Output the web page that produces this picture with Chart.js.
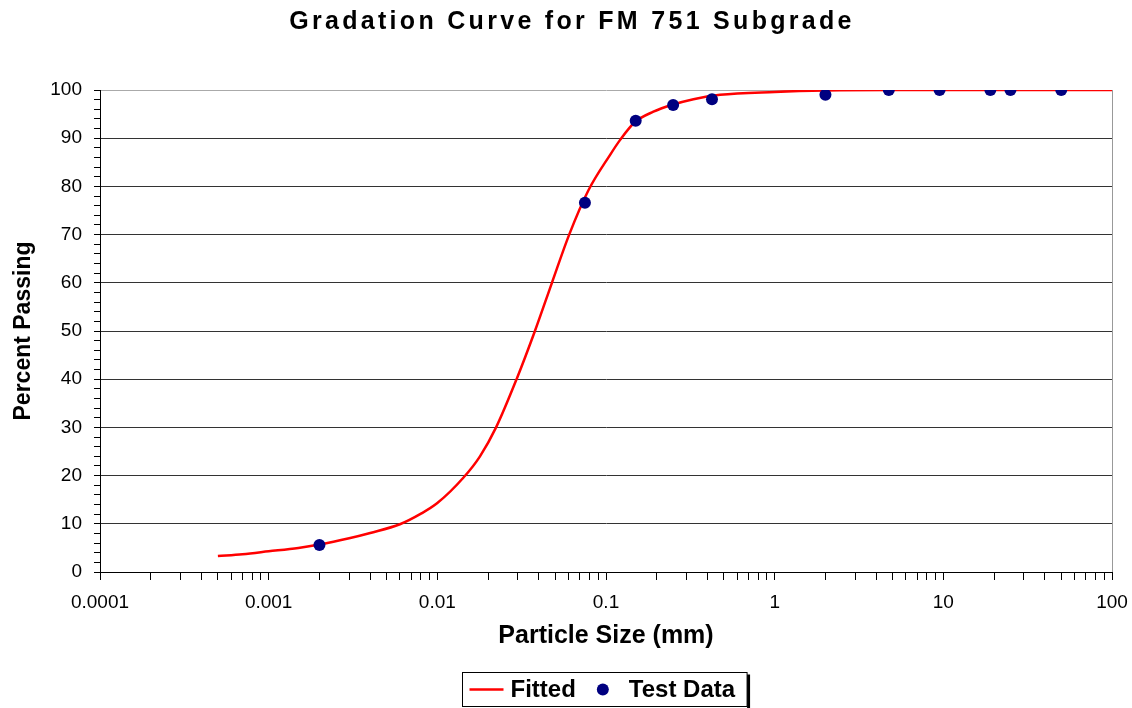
<!DOCTYPE html>
<html>
<head>
<meta charset="utf-8">
<script src="https://cdn.jsdelivr.net/npm/chart.js@4.4.1/dist/chart.umd.min.js"></script>
<style>
  body { margin: 0; background: #fff; }
  canvas { display: block; }
</style>
</head>
<body>
<canvas id="grafico" width="1132" height="708"></canvas>
<script>
// Curva ajustada
const fittedSize = [0.0005, 0.0007, 0.001, 0.0015, 0.002, 0.003, 0.004, 0.006, 0.008, 0.01, 0.0143, 0.0179, 0.0223, 0.0295, 0.0379, 0.0478, 0.0605, 0.0787, 0.106, 0.121, 0.148, 0.191, 0.245, 0.33, 0.474, 1, 2, 5, 100];
const fittedPassing = [3.3, 3.7, 4.3, 5.0, 5.7, 7.0, 8.1, 9.9, 12.1, 14.3, 19.6, 24.0, 30, 40, 50, 60, 70, 79.2, 86.6, 89.6, 93.3, 95.5, 96.9, 98.1, 99.0, 99.6, 99.9, 100, 100];

// Datos de ensayo
const testSize = [0.002, 0.075, 0.15, 0.25, 0.425, 2.0, 4.75, 9.5, 19, 25, 50];
const testPassing = [5.6, 76.6, 93.6, 96.9, 98.1, 99.0, 100, 100, 100, 100, 100];

// Ejes
const xMajorTicks = [0.0001, 0.001, 0.01, 0.1, 1, 10, 100];
const xTickLabels = ["0.0001", "0.001", "0.01", "0.1", "1", "10", "100"];
const yTickLabels = [0, 10, 20, 30, 40, 50, 60, 70, 80, 90, 100];

const FONT = "'Liberation Sans', Arial, sans-serif";

// marcas menores 1..9 por década
const xTickValues = [];
xMajorTicks.forEach((m, i) => {
  if (i === xMajorTicks.length - 1) { xTickValues.push(m); return; }
  for (let k = 1; k <= 9; k++) xTickValues.push(+(m * k).toPrecision(3));
});

// Título con espaciado de letras, leyenda con marco y borde derecho
const leyendaPlugin = {
  id: "leyendaMarco",
  beforeLayout(chart) {
    const tb = chart.titleBlock;
    if (tb && !tb._espaciado) {
      const orig = tb.draw.bind(tb);
      tb.draw = function () {
        const c = chart.ctx;
        c.save();
        c.letterSpacing = "3.3px";
        c.translate(11, 0);
        orig();
        c.restore();
      };
      tb._espaciado = true;
    }
  },
  afterDraw(chart) {
    const ctx = chart.ctx;
    const area = chart.chartArea;
    ctx.save();
    ctx.font = "bold 24px " + FONT;
    const w1 = ctx.measureText("Fitted").width;
    const w2 = ctx.measureText("Test Data").width;
    const boxW = 7 + 34 + 7 + w1 + 27 + 26 + w2 + 12;
    const boxH = 34;
    const cx = (area.left + area.right) / 2 - 2;
    const x0 = Math.round(cx - boxW / 2) + 0.5;
    const y0 = 672.5;
    // sombra
    ctx.fillStyle = "#000";
    ctx.fillRect(x0 + boxW, y0 + 2, 3, boxH);
    ctx.strokeStyle = "#000";
    ctx.lineWidth = 1;
    ctx.strokeRect(x0, y0, boxW, boxH);
    const cy = y0 + boxH / 2;
    let x = x0 + 7;
    ctx.strokeStyle = "#ff0000";
    ctx.lineWidth = 2.5;
    ctx.beginPath();
    ctx.moveTo(x, cy);
    ctx.lineTo(x + 34, cy);
    ctx.stroke();
    x += 34 + 7;
    ctx.fillStyle = "#000";
    ctx.textBaseline = "middle";
    ctx.fillText("Fitted", x, cy + 1);
    x += w1 + 27;
    ctx.fillStyle = "#000080";
    ctx.beginPath();
    ctx.arc(x, cy, 6, 0, Math.PI * 2);
    ctx.fill();
    x += 26;
    ctx.fillStyle = "#000";
    ctx.fillText("Test Data", x, cy + 1);
    // borde derecho del área
    ctx.strokeStyle = "#999";
    ctx.lineWidth = 1;
    ctx.beginPath();
    ctx.moveTo(area.right + 0.5, area.top);
    ctx.lineTo(area.right + 0.5, area.bottom);
    ctx.stroke();
    ctx.restore();
  }
};

const ctx = document.getElementById("grafico").getContext("2d");
new Chart(ctx, {
  type: "scatter",
  data: {
    datasets: [
      {
        label: "Fitted",
        data: fittedSize.map((s, i) => ({ x: s, y: fittedPassing[i] })),
        showLine: true,
        borderColor: "#ff0000",
        borderWidth: 2.5,
        pointRadius: 0,
        cubicInterpolationMode: "monotone",
        order: 2
      },
      {
        label: "Test Data",
        data: testSize.map((s, i) => ({ x: s, y: testPassing[i] })),
        backgroundColor: "#000080",
        borderColor: "#000080",
        pointRadius: 6,
        pointBorderWidth: 0,
        order: 1
      }
    ]
  },
  options: {
    responsive: false,
    animation: false,
    layout: { padding: { left: 10, right: 20, top: 4, bottom: 57 } },
    plugins: {
      legend: { display: false },
      tooltip: { enabled: false },
      title: {
        display: true,
        text: "Gradation Curve for FM 751 Subgrade",
        color: "#000",
        font: { family: FONT, size: 25, weight: "bold" },
        padding: { top: 3, bottom: 53 }
      }
    },
    scales: {
      x: {
        type: "logarithmic",
        min: 0.0001,
        max: 100,
        afterBuildTicks: (scale) => {
          scale.ticks = xTickValues.map(v => ({ value: v }));
        },
        afterFit: (scale) => {
          scale.height = 79;
          scale.paddingRight = 16;
        },
        ticks: {
          autoSkip: false,
          maxRotation: 0,
          color: "#000",
          font: { family: FONT, size: 19 },
          padding: 11,
          callback: (value) => {
            const i = xMajorTicks.findIndex(m => Math.abs(m - value) / m < 1e-6);
            return i >= 0 ? xTickLabels[i] : "";
          }
        },
        grid: { drawOnChartArea: false, color: "#000", tickLength: 8 },
        border: { color: "#000", width: 1 },
        title: {
          display: true,
          text: "Particle Size (mm)",
          color: "#000",
          font: { family: FONT, size: 25, weight: "bold" },
          padding: { top: 7, bottom: 0 }
        }
      },
      y: {
        min: 0,
        max: 100,
        afterFit: (scale) => {
          scale.width = 90;
        },
        ticks: {
          stepSize: 2,
          autoSkip: false,
          color: "#000",
          font: { family: FONT, size: 19 },
          padding: 12,
          callback: (value) => yTickLabels.includes(value) ? String(value) : ""
        },
        grid: {
          color: (c) => {
            const v = c.tick ? c.tick.value : 0;
            if (v === 100) return "#aaa";
            return v % 10 === 0 ? "#333" : "rgba(0,0,0,0)";
          },
          tickColor: "#000",
          tickLength: 6
        },
        border: { color: "#000", width: 1 },
        title: {
          display: true,
          text: "Percent Passing",
          color: "#000",
          font: { family: FONT, size: 23, weight: "bold" },
          padding: { top: 0, bottom: 12 }
        }
      }
    }
  },
  plugins: [leyendaPlugin]
});
</script>
</body>
</html>
